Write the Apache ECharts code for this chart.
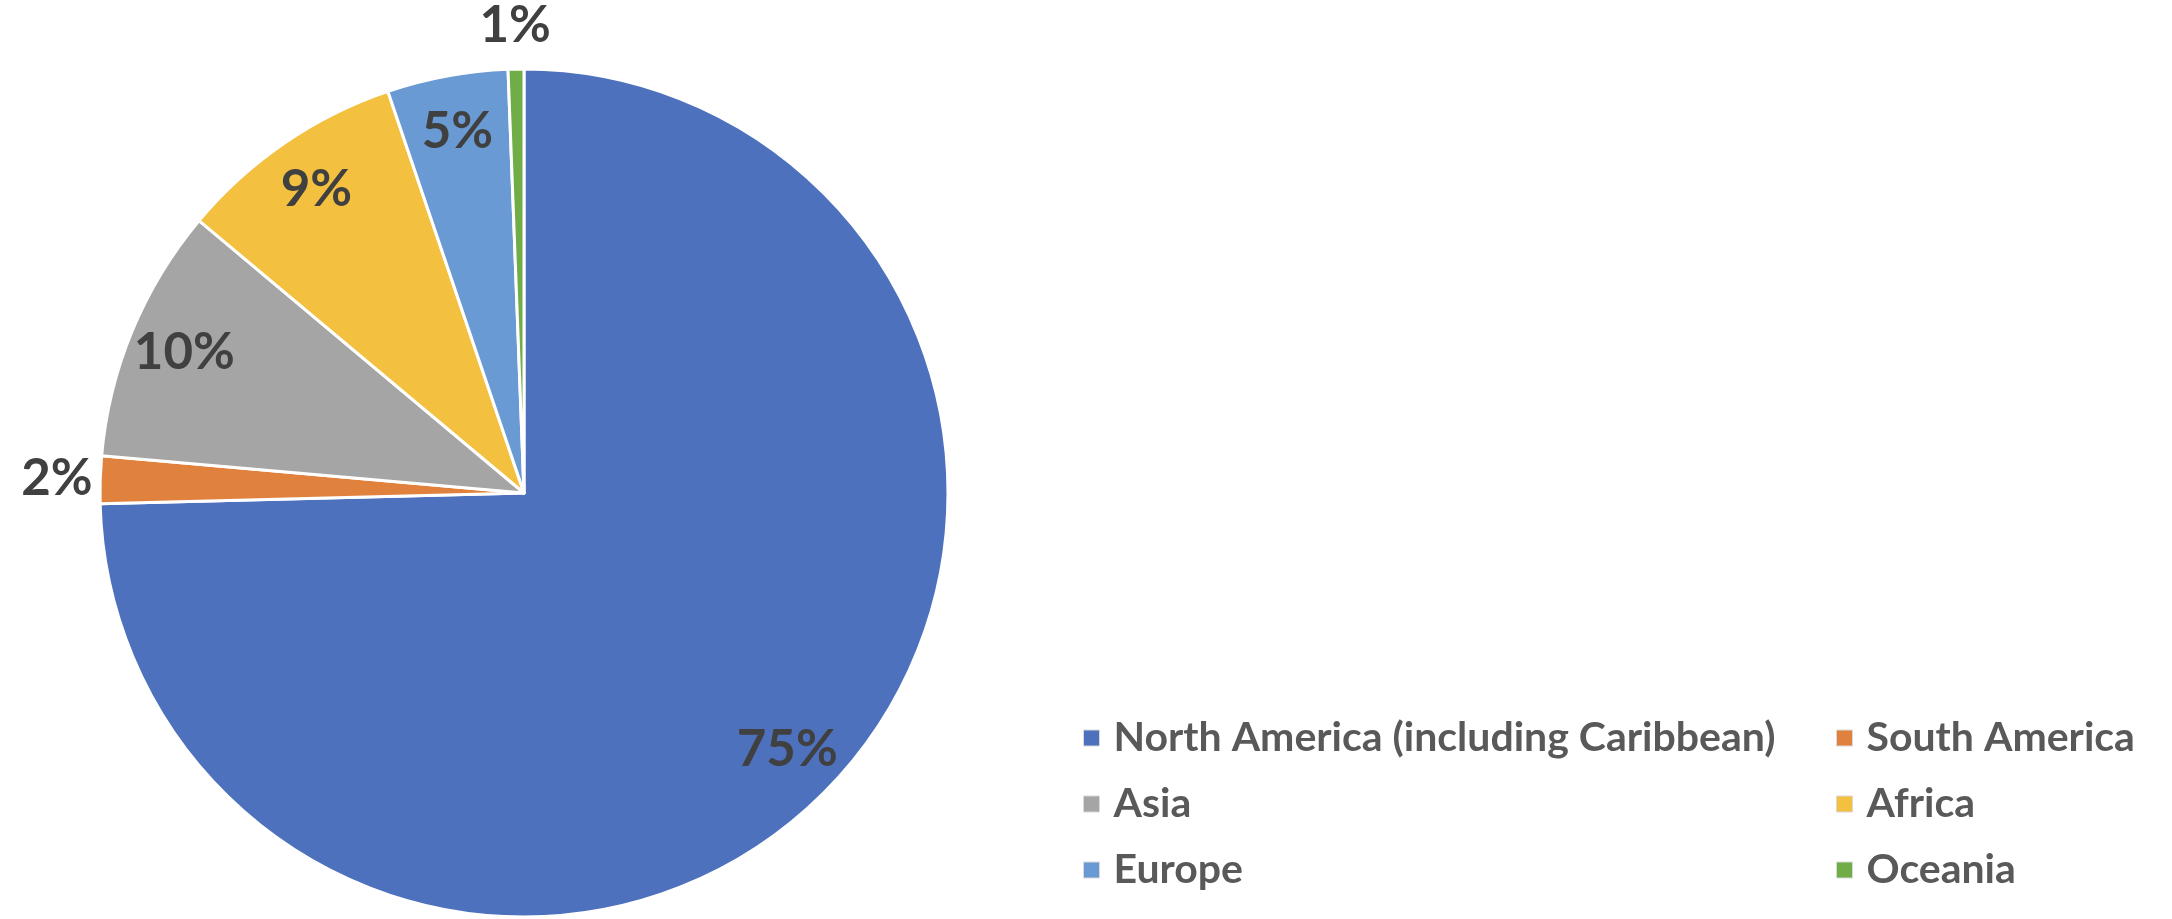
<!DOCTYPE html>
<html>
<head>
<meta charset="utf-8">
<script src="https://cdn.jsdelivr.net/npm/echarts@6/dist/echarts.min.js"></script>
<style>
html,body{margin:0;padding:0;background:#fff;}
#chart{width:2172px;height:919px;}
</style>
</head>
<body>
<div id="chart"></div>
<script>
// ---- data ----
const categories = ['North America (including Caribbean)', 'South America', 'Asia', 'Africa', 'Europe', 'Oceania'];
const shares = [74.6, 1.8, 9.7, 8.7, 4.6, 0.6];   // percent of total
const outsideLabeled = ['South America', 'Oceania'];
const legendLeftCol = ['North America (including Caribbean)', 'Asia', 'Europe'];
const legendRightCol = ['South America', 'Africa', 'Oceania'];

// ---- styles ----
const colors = ['#4E71BE', '#E0823D', '#A5A5A5', '#F3C040', '#6A9AD3', '#70AD47'];
const CX = 524, CY = 493, R = 424;
const labelFont = {fontFamily: 'Lato', fontWeight: 'bold', fontSize: 51, color: '#404040'};

const pieData = categories.map((n, i) => ({name: n, value: shares[i], itemStyle: {color: colors[i]}}));
const fmt = p => Math.round(p.value) + '%';

function labelSeries(radius, showFn) {
  return {
    type: 'pie', silent: true, center: [CX, CY], radius: radius,
    startAngle: 90, clockwise: true,
    itemStyle: {color: 'rgba(0,0,0,0)', borderWidth: 0},
    labelLine: {show: false},
    emphasis: {disabled: true},
    tooltip: {show: false},
    data: categories.map((n, i) => ({
      name: n, value: shares[i],
      label: Object.assign({show: showFn(n), position: 'inside', formatter: fmt}, labelFont)
    }))
  };
}

const legendBase = {
  orient: 'vertical', icon: 'rect', itemWidth: 16, itemHeight: 16, itemGap: 22, padding: 0,
  itemStyle: {borderColor: '#d9d9d9', borderWidth: 1},
  textStyle: {fontFamily: 'Lato', fontWeight: 'bold', fontSize: 41, lineHeight: 44, color: '#595959', padding: [0, 0, 0, 9]},
  selectedMode: false
};

const option = {
  backgroundColor: '#ffffff',
  animation: false,
  legend: [
    Object.assign({}, legendBase, {left: 1083, top: 716, data: legendLeftCol}),
    Object.assign({}, legendBase, {left: 1836, top: 716, data: legendRightCol})
  ],
  series: [
    {
      type: 'pie', center: [CX, CY], radius: R, startAngle: 90, clockwise: true,
      itemStyle: {borderColor: '#ffffff', borderWidth: 3},
      label: {show: false}, labelLine: {show: false},
      data: pieData
    },
    labelSeries(R * 1.72, n => outsideLabeled.indexOf(n) < 0),
    labelSeries(R * 2.19, n => outsideLabeled.indexOf(n) >= 0)
  ]
};

const chart = echarts.init(document.getElementById('chart'), null, {renderer: 'canvas'});
chart.setOption(option);
</script>
</body>
</html>
